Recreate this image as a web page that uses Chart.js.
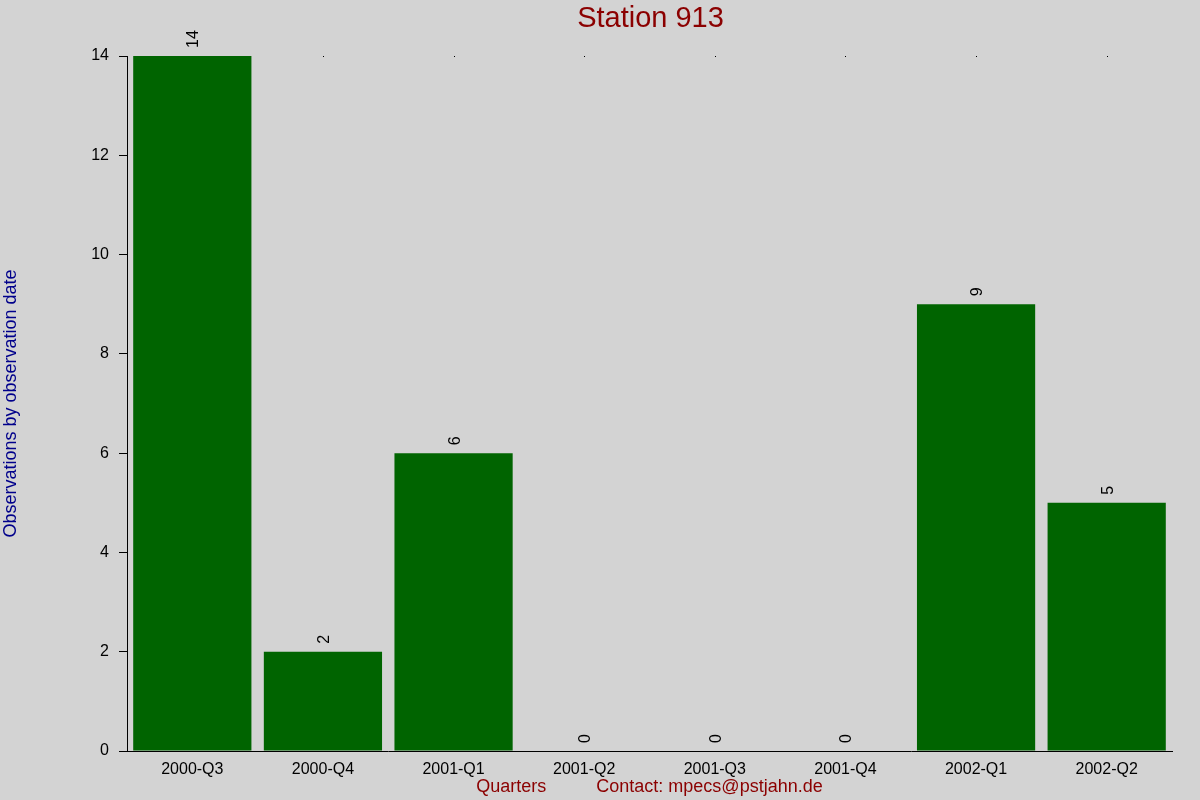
<!DOCTYPE html>
<html>
<head>
<meta charset="utf-8">
<script src="https://cdn.jsdelivr.net/npm/chart.js@4"></script>
<style>
  html, body { margin: 0; padding: 0; background: #d3d3d3; }
  #wrap { width: 1200px; height: 800px; }
</style>
</head>
<body>
<div id="wrap"><canvas id="c" width="1200" height="800"></canvas></div>
<script>
const categories = ['2000-Q3', '2000-Q4', '2001-Q1', '2001-Q2', '2001-Q3', '2001-Q4', '2002-Q1', '2002-Q2'];
const observations = [14, 2, 6, 0, 0, 0, 9, 5];
const yTicks = [0, 2, 4, 6, 8, 10, 12, 14];
const chartTitle = 'Station 913';
const yTitle = 'Observations by observation date';
const xTitle = 'Quarters          Contact: mpecs@pstjahn.de';

const FONT = 'Arial, "Liberation Sans", sans-serif';

const bgPlugin = {
  id: 'bg',
  beforeDraw(chart) {
    const ctx = chart.ctx;
    ctx.save();
    ctx.fillStyle = '#d3d3d3';
    ctx.fillRect(0, 0, chart.width, chart.height);
    ctx.restore();
  }
};

const topDots = {
  id: 'topDots',
  beforeDatasetsDraw(chart) {
    const ctx = chart.ctx;
    const xs = chart.scales.x;
    const top = chart.chartArea.top;
    ctx.save();
    ctx.fillStyle = '#000';
    categories.forEach((c, i) => {
      const x = xs.getPixelForValue(i);
      ctx.fillRect(Math.round(x), Math.round(top), 1, 1);
    });
    ctx.restore();
  }
};

const valueLabels = {
  id: 'valueLabels',
  afterDatasetsDraw(chart) {
    const ctx = chart.ctx;
    const meta = chart.getDatasetMeta(0);
    ctx.save();
    ctx.fillStyle = '#000';
    ctx.font = '16px ' + FONT;
    ctx.textAlign = 'left';
    ctx.textBaseline = 'alphabetic';
    meta.data.forEach((bar, i) => {
      ctx.save();
      ctx.translate(bar.x, bar.y - 8);
      ctx.rotate(-Math.PI / 2);
      ctx.fillText(String(observations[i]), 0, 6);
      ctx.restore();
    });
    ctx.restore();
  }
};

const titlePlugin = {
  id: 'mainTitle',
  afterDraw(chart) {
    const ctx = chart.ctx;
    const ca = chart.chartArea;
    ctx.save();
    ctx.fillStyle = '#8b0000';
    ctx.font = '29px ' + FONT;
    ctx.textAlign = 'center';
    ctx.textBaseline = 'middle';
    ctx.fillText(chartTitle, (ca.left + ca.right) / 2 + 1, 19);
    ctx.restore();
  }
};

new Chart(document.getElementById('c'), {
  type: 'bar',
  data: {
    labels: categories,
    datasets: [{
      data: observations,
      backgroundColor: '#006400',
      borderColor: '#006400',
      borderWidth: 0,
      categoryPercentage: 1.0,
      barPercentage: 0.905
    }]
  },
  options: {
    responsive: false,
    animation: false,
    devicePixelRatio: 1,
    layout: { padding: { top: 56, right: 28, left: 0, bottom: 0 } },
    plugins: {
      legend: { display: false },
      tooltip: { enabled: false },
      title: { display: false }
    },
    scales: {
      x: {
        grid: { display: false },
        border: { display: true, color: '#000', width: 1 },
        ticks: { color: '#000', font: { size: 16, family: FONT }, padding: 1, maxRotation: 0, autoSkip: false },
        title: {
          display: true,
          text: xTitle,
          color: '#8b0000',
          font: { size: 18, family: FONT },
          padding: { top: 0, bottom: 2 }
        },
        afterFit(scale) { scale.height = 49; }
      },
      y: {
        min: 0,
        max: 14,
        afterBuildTicks(scale) { scale.ticks = yTicks.map(v => ({ value: v })); },
        grid: { display: true, drawOnChartArea: false, drawTicks: true, tickLength: 8, color: '#000' },
        border: { display: true, color: '#000', width: 1 },
        ticks: { color: '#000', font: { size: 16, family: FONT }, padding: 10 },
        title: {
          display: true,
          text: yTitle,
          color: '#00008b',
          font: { size: 18, family: FONT },
          padding: { top: 0, bottom: 0 }
        },
        afterFit(scale) { scale.width = 127; }
      }
    }
  },
  plugins: [bgPlugin, topDots, valueLabels, titlePlugin]
});
</script>
</body>
</html>
